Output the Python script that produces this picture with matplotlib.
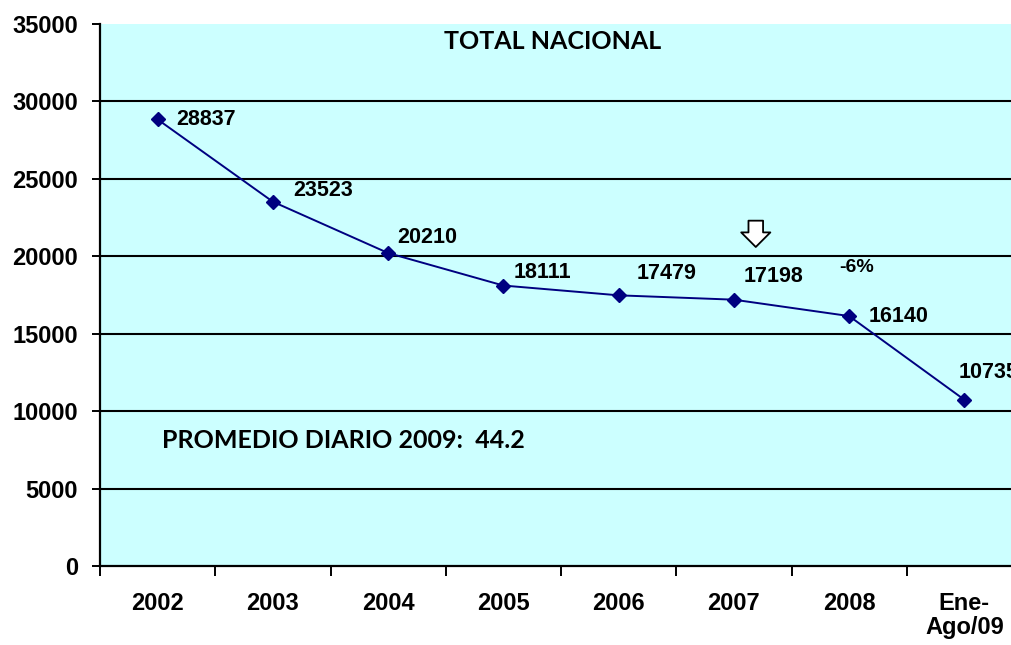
import numpy as np
import matplotlib
matplotlib.use("Agg")
import matplotlib.pyplot as plt

# data
categories = ["2002", "2003", "2004", "2005", "2006", "2007", "2008", "Ene-\nAgo/09"]
totals = [28837, 23523, 20210, 18111, 17479, 17198, 16140, 10735]
# label offsets in pixels (dx, dy) relative to each point
label_offsets = [(19, 0), (20, 11), (9, 16), (10, 13), (18, 22), (10, 23), (20, 0), (-6, 27)]
y_ticks = np.arange(0, 35001, 5000)

BG = "#CCFFFF"
LINE = "#000080"
LABEL_FONT = ["Liberation Sans", "DejaVu Sans"]
TITLE_FONT = ["Lato", "DejaVu Sans"]

fig = plt.figure(figsize=(10.11, 6.45), dpi=100)
fig.patch.set_facecolor("white")
ax = fig.add_axes([100 / 1011, 1 - 566 / 645, 922 / 1011, 542 / 645])
ax.set_facecolor(BG)

x = np.arange(len(categories))
ax.plot(x, totals, color=LINE, lw=1.4, marker="D", ms=7.3, mfc=LINE, mec=LINE, zorder=4)

ax.set_xlim(-0.5, len(categories) - 0.5)
ax.set_ylim(0, 35000)

# y axis: ticks, labels, black gridlines (none on the top edge)
ax.set_yticks(y_ticks)
ax.set_yticklabels([str(v) for v in y_ticks], fontfamily=LABEL_FONT, fontweight="bold", fontsize=17)
ax.tick_params(axis="y", direction="out", length=6, width=1.4, pad=10, colors="black")
for v in y_ticks[1:-1]:
    ax.axhline(v, color="black", lw=1.5, zorder=1)

# x axis: tick marks between categories, labels centred on categories
ax.set_xticks(np.arange(-0.5, len(categories), 1.0))
ax.set_xticklabels([])
ax.set_xticks(x, minor=True)
ax.set_xticklabels(categories, minor=True, fontfamily=LABEL_FONT, fontweight="bold", fontsize=17)
ax.tick_params(axis="x", which="major", direction="out", length=7, width=1.4)
ax.tick_params(axis="x", which="minor", length=0, pad=19)
for lbl in ax.get_xticklabels(minor=True):
    lbl.set_verticalalignment("top")
    lbl.set_linespacing(1.05)

for side in ["top", "right"]:
    ax.spines[side].set_visible(False)
for side in ["left", "bottom"]:
    ax.spines[side].set_color("black")
    ax.spines[side].set_linewidth(1.6)

# value labels
px2pt = 72.0 / fig.dpi
for xi, v, (dx, dy) in zip(x, totals, label_offsets):
    ax.annotate(str(v), xy=(xi, v), xytext=(dx * px2pt, dy * px2pt), textcoords="offset points",
                ha="left", va="center", fontfamily=LABEL_FONT, fontweight="bold", fontsize=15.5,
                annotation_clip=False)

ax.text(5.91, 19250, "-6%", ha="left", va="center", fontfamily=LABEL_FONT, fontweight="bold", fontsize=14)

# hollow down arrow above 2007
ax.annotate("", xy=(5.19, 20600), xytext=(5.19, 22300),
            arrowprops=dict(arrowstyle="simple,head_width=1.5,head_length=0.75,tail_width=0.75",
                            mutation_scale=14, fc="white", ec="black", lw=1.3, shrinkA=0, shrinkB=0))

ax.text(3.43, 33900, "TOTAL NACIONAL", ha="center", va="center",
        fontfamily=TITLE_FONT, fontweight="bold", fontsize=18)
ax.text(0.038, 8075, "PROMEDIO DIARIO 2009:  44.2", ha="left", va="center",
        fontfamily=TITLE_FONT, fontweight="bold", fontsize=18)

plt.savefig("out.png", dpi=100)
plt.close()
